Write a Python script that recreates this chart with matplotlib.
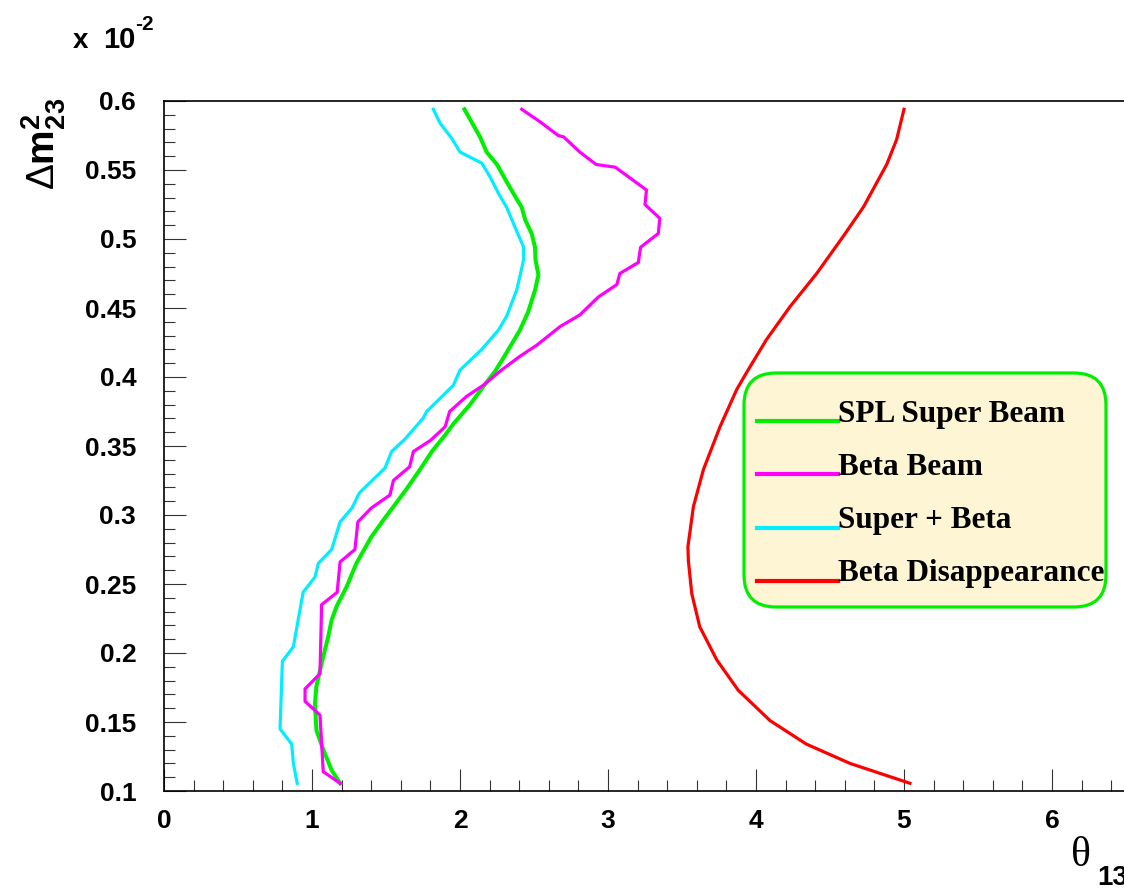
import numpy as np
import matplotlib.pyplot as plt
from matplotlib.patches import FancyBboxPatch
from matplotlib.legend_handler import HandlerLine2D
from matplotlib.ticker import MultipleLocator, FormatStrFormatter

plt.rcParams['font.family'] = ['Liberation Sans', 'DejaVu Sans']
plt.rcParams['mathtext.fontset'] = 'custom'
plt.rcParams['mathtext.rm'] = 'Liberation Sans'
plt.rcParams['mathtext.bf'] = 'Liberation Sans:bold'
plt.rcParams['mathtext.it'] = 'Liberation Sans:italic'

#----------------------------------------------- curves (theta13, dm2 x 1e-2)
spl_x = [2.03, 2.135, 2.18, 2.25, 2.315, 2.383, 2.417, 2.44, 2.484, 2.507, 2.51, 2.53,
         2.507, 2.46, 2.405, 2.30, 2.236, 2.157, 2.068, 1.955, 1.90, 1.81, 1.73, 1.64,
         1.55, 1.48, 1.40, 1.30, 1.234, 1.167, 1.133, 1.11, 1.065, 1.03, 1.02, 1.03,
         1.076, 1.133, 1.19]
spl_y = [0.594, 0.574, 0.563, 0.554, 0.5415, 0.529, 0.523, 0.514, 0.504, 0.494, 0.485, 0.474,
         0.463, 0.447, 0.434, 0.415, 0.404, 0.393, 0.380, 0.366, 0.358, 0.346, 0.333, 0.319,
         0.306, 0.296, 0.284, 0.265, 0.248, 0.234, 0.224, 0.212, 0.1925, 0.176, 0.1635, 0.144,
         0.130, 0.115, 0.1056]

beta_x = [2.417, 2.54, 2.664, 2.70, 2.81, 2.92, 3.05, 3.26, 3.25, 3.35, 3.34, 3.22,
          3.205, 3.08, 3.06, 2.935, 2.81, 2.676, 2.518, 2.405, 2.28, 2.157, 2.045, 1.93,
          1.90, 1.80, 1.685, 1.66, 1.55, 1.527, 1.40, 1.31, 1.29, 1.19, 1.17, 1.065,
          1.054, 0.953, 0.953, 1.054, 1.076, 1.19]
beta_y = [0.594, 0.585, 0.575, 0.574, 0.563, 0.554, 0.552, 0.5355, 0.525, 0.515, 0.504, 0.494,
          0.483, 0.475, 0.467, 0.458, 0.445, 0.4365, 0.423, 0.415, 0.405, 0.394, 0.386, 0.375,
          0.364, 0.354, 0.346, 0.335, 0.325, 0.3145, 0.305, 0.295, 0.275, 0.266, 0.244, 0.235,
          0.185, 0.174, 0.165, 0.155, 0.114, 0.1056]

comb_x = [1.82, 1.865, 1.944, 2.0, 2.147, 2.203, 2.26, 2.315, 2.37, 2.43, 2.43, 2.405,
          2.383, 2.315, 2.26, 2.147, 2.0, 1.955, 1.775, 1.75, 1.628, 1.538, 1.493, 1.32,
          1.27, 1.19, 1.133, 1.043, 1.02, 0.94, 0.874, 0.80, 0.784, 0.863, 0.874, 0.90]
comb_y = [0.594, 0.584, 0.573, 0.563, 0.555, 0.545, 0.533, 0.523, 0.509, 0.494, 0.485, 0.473,
          0.463, 0.444, 0.434, 0.420, 0.405, 0.394, 0.375, 0.370, 0.355, 0.346, 0.334, 0.316,
          0.305, 0.295, 0.275, 0.265, 0.255, 0.244, 0.2045, 0.194, 0.145, 0.134, 0.120, 0.1056]

dis_x = [5.0, 4.95, 4.883, 4.725, 4.59, 4.41, 4.23, 4.07, 3.935, 3.87, 3.757, 3.645,
         3.577, 3.54, 3.543, 3.566, 3.62, 3.735, 3.88, 4.095, 4.34, 4.635, 5.04]
dis_y = [0.594, 0.572, 0.554, 0.523, 0.502, 0.475, 0.451, 0.427, 0.403, 0.391, 0.364, 0.333,
         0.306, 0.277, 0.267, 0.243, 0.219, 0.195, 0.173, 0.151, 0.134, 0.120, 0.1056]

labels = ["SPL Super Beam", "Beta Beam", "Super + Beta", "Beta Disappearance"]


# ROOT draws the legend line at the text baseline, not at mid height
class BaselineHandler(HandlerLine2D):
  def create_artists(self, legend, orig_handle, xdescent, ydescent, width, height, fontsize, trans):
    arts = super().create_artists(legend, orig_handle, xdescent, ydescent, width, height, fontsize, trans)
    for a in arts:
      a.set_ydata(np.asarray(a.get_ydata()) - 0.33*fontsize)
      a.set_linewidth(3.0)
    return arts


#----------------------------------------------- plotting
fig = plt.figure(figsize=(11.24, 8.88), dpi=100)
ax = fig.add_axes([164/1124, 97/888, 962/1124, 690/888])

ax.plot(spl_x, spl_y, lw=2.9, c="#00ee00", label=labels[0])
ax.plot(beta_x, beta_y, lw=2.3, c="#ff00ff", label=labels[1])
ax.plot(comb_x, comb_y, lw=2.3, c="#00eeff", label=labels[2])
ax.plot(dis_x, dis_y, lw=2.3, c="#ff0000", label=labels[3])

ax.set_xlim(0, 6.5)
ax.set_ylim(0.1, 0.6)
ax.xaxis.set_major_locator(MultipleLocator(1))
ax.xaxis.set_minor_locator(MultipleLocator(0.2))
ax.yaxis.set_major_locator(MultipleLocator(0.05))
ax.yaxis.set_minor_locator(MultipleLocator(0.01))
ax.yaxis.set_major_formatter(FormatStrFormatter("%g"))
ax.tick_params(which="both", direction="in", colors="#333333", width=0.8,
               top=False, right=False, labelsize=19)
ax.tick_params(which="major", length=16)
ax.tick_params(which="minor", length=8)
ax.tick_params(axis="x", pad=13)
ax.tick_params(axis="y", pad=20)
for lab in ax.get_xticklabels() + ax.get_yticklabels():
  lab.set_fontweight("bold")
  lab.set_color("black")
for s in ax.spines.values():
  s.set_linewidth(1.2)

# legend box (ROOT style, rounded)
box = FancyBboxPatch((7.44, 2.81), 3.62, 2.34, boxstyle="round,pad=0,rounding_size=0.32",
                     transform=fig.dpi_scale_trans, facecolor="#fdf5d3", edgecolor="#00ee00",
                     lw=2.3, zorder=4)
ax.add_patch(box)
leg = ax.legend(loc="upper left", bbox_to_anchor=((757-164)/962, (791-400)/690),
                frameon=False, borderpad=0, borderaxespad=0, handlelength=2.6,
                handletextpad=0, labelspacing=0.77,
                handler_map={plt.Line2D: BaselineHandler()},
                prop={"family": "Liberation Serif", "weight": "bold", "size": 22.5})
leg.set_zorder(5)

fig.text(44/1124, 1-144/888, r"$\Delta\mathbf{m}^{\mathbf{2}}_{\mathbf{23}}$", rotation=90,
         ha="center", va="center", fontsize=28)
fig.text(73/1124, 1-48/888, "x", fontsize=20, fontweight="bold", va="baseline")
fig.text(103/1124, 1-48/888, "10", fontsize=21, fontweight="bold", va="baseline")
fig.text(135/1124, 1-30/888, "-2", fontsize=15, fontweight="bold", va="baseline")
fig.text(1071/1124, 1-866/888, "θ", family="Liberation Serif", fontsize=30, va="baseline")
fig.text(1097/1124, 3/888, "13", fontsize=20, fontweight="bold", va="baseline")

plt.savefig("out.png", dpi=100)
